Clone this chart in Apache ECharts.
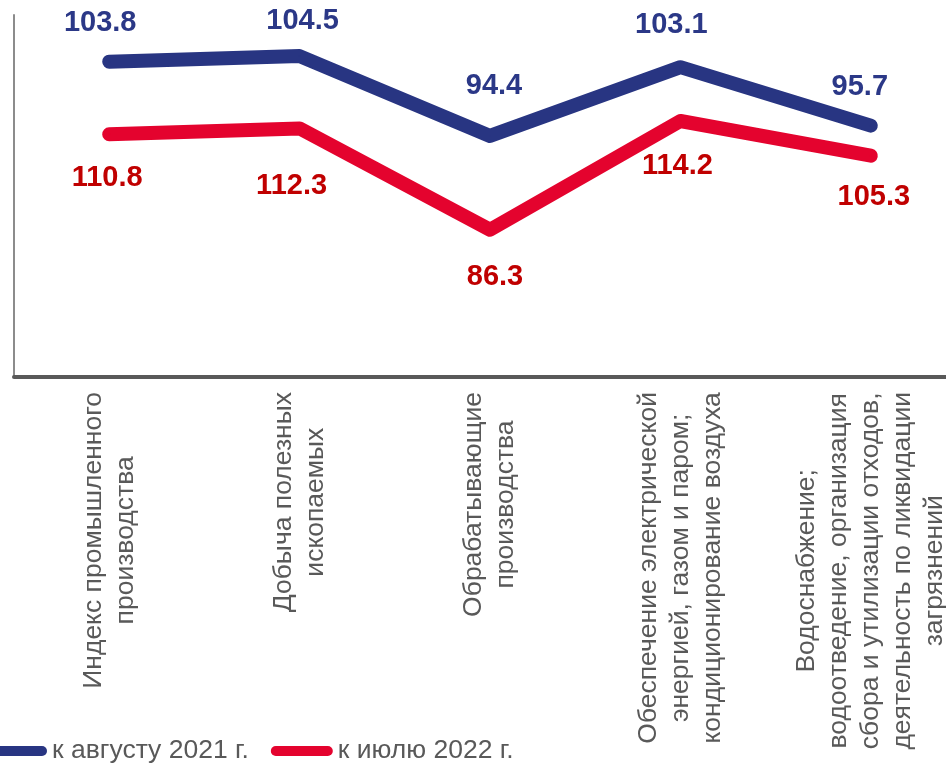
<!DOCTYPE html>
<html>
<head>
<meta charset="utf-8">
<script src="https://cdn.jsdelivr.net/npm/echarts@6/dist/echarts.min.js"></script>
<style>
html,body{margin:0;padding:0;background:#ffffff;overflow:hidden;width:946px;height:763px;}
#chart{width:966px;height:763px;}
</style>
</head>
<body>
<div id="chart"></div>
<script>
// ---- data ----
const categories = [
  'Индекс промышленного\nпроизводства',
  'Добыча полезных\nископаемых',
  'Обрабатывающие\nпроизводства',
  'Обеспечение электрической\nэнергией, газом и паром;\nкондиционирование воздуха',
  'Водоснабжение;\nводоотведение, организация\nсбора и утилизации отходов,\nдеятельность по ликвидации\nзагрязнений'
];
const seriesNames = ['к августу 2021 г.', 'к июлю 2022 г.'];
const valuesAug2021 = [103.8, 104.5, 94.4, 103.1, 95.7];
const valuesJul2022 = [110.8, 112.3, 86.3, 114.2, 105.3];

// ---- label placement (layout only, px nudges relative to each point) ----
const labelOffsetsAug = [[-9, -39], [3, -35], [4, -50], [-9, -42], [-11, -39]];
const labelOffsetsJul = [[-2, 44], [-8, 58], [5, 47], [-3, 45], [3, 41]];

// ---- chart ----
const FONT = '"Liberation Sans", Arial, sans-serif';
const BLUE = '#283582';
const RED = '#E4032E';
const chart = echarts.init(document.getElementById('chart'), null, {renderer: 'canvas'});

function withLabels(values, offsets) {
  return values.map(function (v, i) {
    return {value: v, label: {offset: offsets[i]}};
  });
}

chart.setOption({
  animation: false,
  backgroundColor: '#ffffff',
  grid: {left: 14, top: 15, right: 0, bottom: 386, containLabel: false},
  legend: {
    left: -20,
    top: 732,
    itemWidth: 62,
    itemHeight: 10,
    itemGap: 22,
    selectedMode: false,
    icon: 'path://M5,0L57,0A5,5,0,0,1,57,10L5,10A5,5,0,0,1,5,0Z',
    textStyle: {color: '#595959', fontSize: 26.5, fontFamily: FONT, lineHeight: 28, padding: [0, 0, 0, 0]},
    data: seriesNames
  },
  xAxis: {
    type: 'category',
    data: categories,
    boundaryGap: true,
    axisLine: {show: true, lineStyle: {color: '#595959', width: 4}},
    axisTick: {show: false},
    splitLine: {show: false},
    axisLabel: {
      interval: 0,
      rotate: 90,
      margin: 15,
      hideOverlap: false,
      color: '#595959',
      fontFamily: FONT,
      fontSize: 26,
      lineHeight: 32,
      formatter: function (v) {
        return v.split('\n').map(function (s) { return '{c|' + s + '}'; }).join('\n');
      },
      rich: {
        c: {align: 'center', color: '#595959', fontFamily: FONT, fontSize: 26.5, lineHeight: 32}
      }
    }
  },
  yAxis: [
    {
      type: 'value',
      position: 'left',
      min: 63.9,
      max: 109.7,
      axisLine: {show: true, lineStyle: {color: '#8c8c8c', width: 2}},
      axisTick: {show: false},
      axisLabel: {show: false},
      splitLine: {show: false}
    },
    {
      type: 'value',
      position: 'right',
      min: 48.5,
      max: 141.4,
      show: false,
      axisLine: {show: false},
      axisTick: {show: false},
      axisLabel: {show: false},
      splitLine: {show: false}
    }
  ],
  series: [
    {
      name: seriesNames[0],
      type: 'line',
      yAxisIndex: 0,
      data: withLabels(valuesAug2021, labelOffsetsAug),
      color: BLUE,
      symbol: 'circle',
      symbolSize: 2,
      showSymbol: true,
      lineStyle: {color: BLUE, width: 14, cap: 'round', join: 'round'},
      itemStyle: {color: BLUE},
      emphasis: {disabled: true},
      label: {
        show: true,
        position: 'inside',
        color: '#2B3887',
        fontFamily: FONT,
        fontWeight: 'bold',
        fontSize: 29,
        formatter: function (p) { return p.value.toFixed(1); }
      }
    },
    {
      name: seriesNames[1],
      type: 'line',
      yAxisIndex: 1,
      data: withLabels(valuesJul2022, labelOffsetsJul),
      color: RED,
      symbol: 'circle',
      symbolSize: 2,
      showSymbol: true,
      lineStyle: {color: RED, width: 14, cap: 'round', join: 'round'},
      itemStyle: {color: RED},
      emphasis: {disabled: true},
      label: {
        show: true,
        position: 'inside',
        color: '#C00000',
        fontFamily: FONT,
        fontWeight: 'bold',
        fontSize: 29,
        formatter: function (p) { return p.value.toFixed(1); }
      }
    }
  ]
});
</script>
</body>
</html>
